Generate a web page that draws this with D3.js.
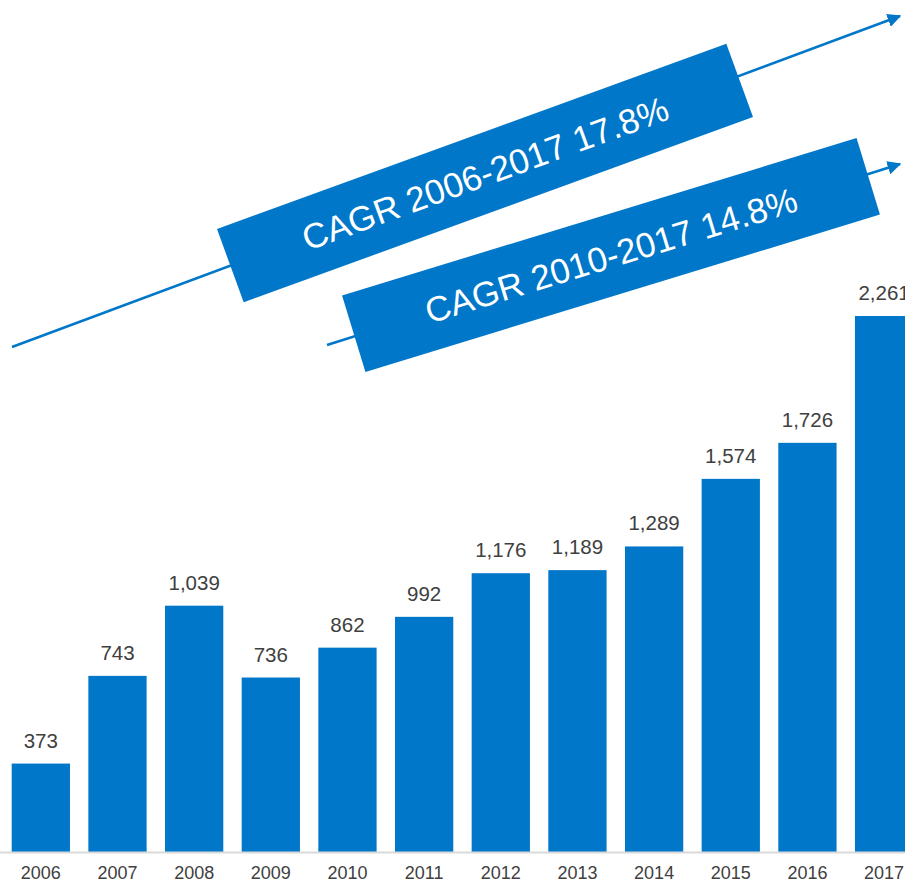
<!DOCTYPE html>
<html><head><meta charset="utf-8">
<script src="https://cdn.jsdelivr.net/npm/d3@7"></script>
<style>body{margin:0;background:#fff}svg{display:block}</style>
</head><body>
<svg id="chart" width="905" height="885"></svg>
<script>
const years = ["2006","2007","2008","2009","2010","2011","2012","2013","2014","2015","2016","2017"];
const values = [373,743,1039,736,862,992,1176,1189,1289,1574,1726,2261];
const cagrLabels = ["CAGR 2006-2017 17.8%","CAGR 2010-2017 14.8%"];

const W = 905, H = 885, blue = "#0077C8", grey = "#404040";
const svg = d3.select("#chart");
const baseY = 852;
const x = d3.scaleBand().domain(years).range([2.5, 2.5 + 12*76.66]).paddingInner(0.24).paddingOuter(0.12);
const y = d3.scaleLinear().domain([0, 2261]).range([baseY, 316]);

// arrows
const defs = svg.append("defs");
defs.append("marker").attr("id","ah").attr("viewBox","0 0 10 10").attr("refX",9).attr("refY",5)
  .attr("markerWidth",5.5).attr("markerHeight",5.5).attr("orient","auto").attr("markerUnits","strokeWidth")
  .append("path").attr("d","M0,0L10,5L0,10Z").attr("fill",blue);

const arrows = [
  {x1:12,y1:347,x2:900,y2:16},
  {x1:327,y1:345,x2:900,y2:164}
];
svg.selectAll("line.arr").data(arrows).join("line").attr("class","arr")
  .attr("x1",d=>d.x1).attr("y1",d=>d.y1).attr("x2",d=>d.x2).attr("y2",d=>d.y2)
  .attr("stroke",blue).attr("stroke-width",2.5).attr("marker-end","url(#ah)");

const boxes = [
  {cx:485,cy:173,w:542,h:78,a:-20,t:cagrLabels[0]},
  {cx:611,cy:255,w:538,h:80,a:-17,t:cagrLabels[1]}
];
const bg = svg.selectAll("g.box").data(boxes).join("g").attr("class","box")
  .attr("transform",d=>`translate(${d.cx},${d.cy}) rotate(${d.a})`);
bg.append("rect").attr("x",d=>-d.w/2).attr("y",d=>-d.h/2).attr("width",d=>d.w).attr("height",d=>d.h).attr("fill",blue);
bg.append("text").attr("text-anchor","middle").attr("dy","0.36em")
  .attr("font-family","Liberation Sans, Arial, sans-serif").attr("font-size",35).attr("fill","#fff").text(d=>d.t);

// bars
svg.selectAll("rect.bar").data(values).join("rect").attr("class","bar")
  .attr("x",(d,i)=>x(years[i])).attr("width",x.bandwidth())
  .attr("y",d=>y(d)).attr("height",d=>baseY-y(d)).attr("fill",blue);

svg.selectAll("text.val").data(values).join("text").attr("class","val")
  .attr("x",(d,i)=>x(years[i])+x.bandwidth()/2).attr("y",d=>y(d)-16)
  .attr("text-anchor","middle").attr("font-family","Liberation Sans, Arial, sans-serif")
  .attr("font-size",20.5).attr("fill",grey).text(d=>d3.format(",")(d));

// axis
const axis = svg.append("g").attr("transform",`translate(0,${baseY})`)
  .call(d3.axisBottom(x).tickSize(0).tickPadding(14));
axis.select(".domain").attr("d",`M0,0.5H${W}`).attr("stroke","#d9d9d9").attr("stroke-width",2);
axis.selectAll("text").attr("font-family","Liberation Sans, Arial, sans-serif").attr("font-size",18).attr("fill",grey);
</script>
</body></html>
